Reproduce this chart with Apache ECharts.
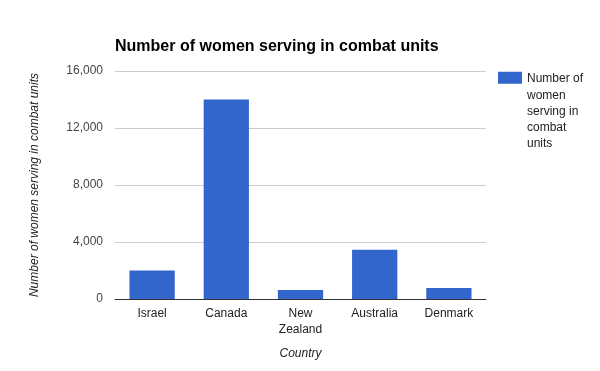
<!DOCTYPE html>
<html><head><meta charset="utf-8">
<script src="https://cdn.jsdelivr.net/npm/echarts@6/dist/echarts.min.js"></script>
<style>html,body{margin:0;padding:0;background:#fff}#c{width:600px;height:371px}</style>
</head><body><div id="c"></div>
<script>
var categories = ['Israel', 'Canada', 'New\nZealand', 'Australia', 'Denmark'];
var values = [2000, 14000, 640, 3450, 780];
var seriesName = 'Number of women serving in combat units';
var yTicks = [0, 4000, 8000, 12000, 16000];

var chart = echarts.init(document.getElementById('c'));
var font = 'Arial, "Liberation Sans", sans-serif';
chart.setOption({
  animation: false,
  textStyle: {fontFamily: font},
  title: {
    text: 'Number of women serving in combat units',
    left: 110, top: 34,
    textStyle: {fontSize: 16, fontWeight: 'bold', color: '#000', fontFamily: font}
  },
  legend: {
    left: 498, top: 71, orient: 'vertical', padding: 0,
    itemWidth: 24, itemHeight: 80,
    icon: 'path://M0,0H24V12H0ZM0,79.99H0.01V80H0Z',
    formatter: function () { return 'Number of\nwomen\nserving in\ncombat\nunits'; },
    textStyle: {fontSize: 12, color: '#222', lineHeight: 16.25, fontFamily: font}
  },
  grid: {left: 115, right: 114, top: 71, bottom: 72},
  xAxis: {
    type: 'category', data: categories,
    name: 'Country', nameLocation: 'middle', nameGap: 49,
    nameTextStyle: {fontStyle: 'italic', fontSize: 12, color: '#222'},
    axisLine: {lineStyle: {color: '#333'}},
    axisTick: {show: false},
    axisLabel: {fontSize: 12, color: '#222', margin: 7, lineHeight: 16, interval: 0}
  },
  yAxis: {
    type: 'value', min: yTicks[0], max: yTicks[yTicks.length - 1], interval: 4000,
    name: 'Number of women serving in combat units', nameLocation: 'middle', nameGap: 74,
    nameTextStyle: {fontStyle: 'italic', fontSize: 12, color: '#222'},
    axisLine: {show: false}, axisTick: {show: false},
    axisLabel: {fontSize: 12, color: '#444', margin: 12,
      formatter: function (v) { return v.toLocaleString('en-US'); }},
    splitLine: {lineStyle: {color: '#ccc'}}
  },
  series: [{
    name: seriesName, type: 'bar', data: values,
    barCategoryGap: '39%',
    itemStyle: {color: '#3366cc'}
  }]
});
</script></body></html>
